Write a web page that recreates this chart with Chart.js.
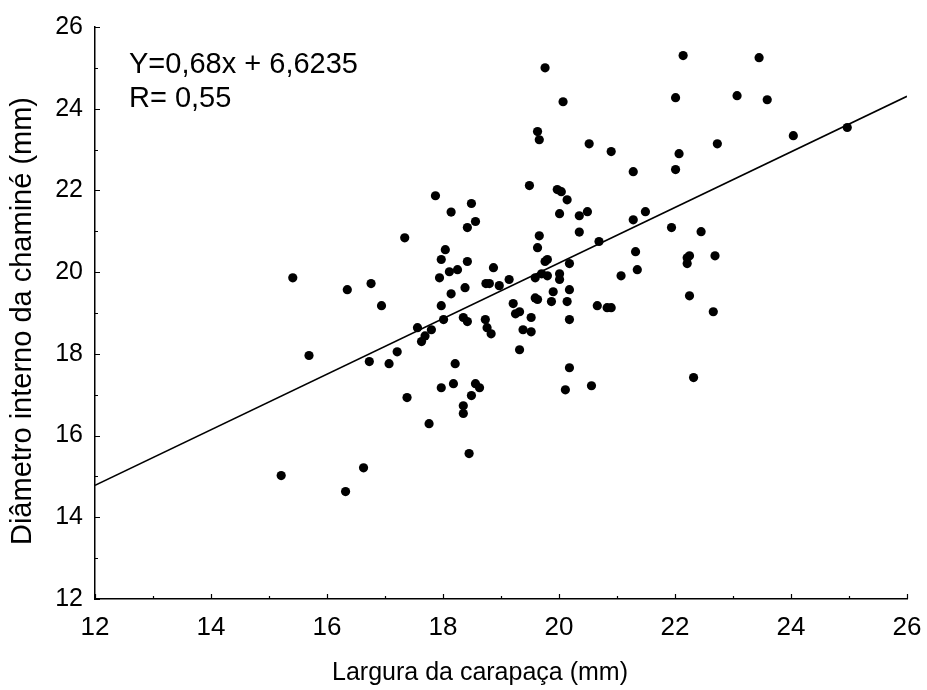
<!DOCTYPE html>
<html>
<head>
<meta charset="utf-8">
<script src="https://cdn.jsdelivr.net/npm/chart.js@4/dist/chart.umd.min.js"></script>
<style>
  html, body { margin: 0; padding: 0; background: #fff; }
  canvas { display: block; }
</style>
</head>
<body>
<canvas id="scatterChart" width="927" height="690"></canvas>
<script>
// largura da carapaça (mm)
const larguraCarapaca = [
  15.41, 16.35, 16.76, 16.94, 15.69, 15.21, 16.63, 16.32, 16.73, 17.07,
  17.21, 17.34, 17.38, 17.56, 17.63, 17.69, 17.80, 17.76, 17.87, 17.94,
  17.97, 17.97, 17.97, 18.01, 18.04, 18.11, 18.14, 18.14, 18.18, 18.21,
  18.25, 18.35, 18.42, 18.35, 18.35, 18.38, 18.42, 18.42, 18.45, 18.49,
  18.49, 18.56, 18.56, 18.63, 18.73, 18.76, 18.83, 18.74, 18.80, 18.87,
  18.97, 19.14, 19.21, 19.25, 19.32, 19.32, 19.38, 19.49, 19.52, 19.52,
  19.59, 19.59, 19.63, 19.63, 19.66, 19.63, 19.66, 19.70, 19.76, 19.76,
  19.80, 19.80, 19.87, 19.90, 19.97, 20.04, 20.01, 20.01, 20.01, 20.07,
  20.11, 20.14, 20.14, 20.18, 20.18, 20.18, 20.18, 20.35, 20.49, 20.35,
  20.52, 20.56, 20.66, 20.69, 20.83, 20.90, 20.90, 21.07, 21.28, 21.28,
  21.32, 21.35, 21.49, 21.94, 22.01, 22.01, 22.07, 22.14, 22.21, 22.25,
  22.21, 22.25, 22.32, 22.45, 22.66, 22.69, 22.73, 23.07, 23.45, 23.59,
  24.04, 24.97
];

// diâmetro interno da chaminé (mm)
const diametroChamine = [
  19.86, 19.57, 19.72, 19.18, 17.96, 15.02, 15.21, 14.63, 17.81, 17.76,
  18.05, 20.84, 16.93, 18.64, 18.30, 18.44, 18.59, 16.29, 21.87, 19.86,
  20.31, 19.18, 17.17, 18.84, 20.55, 20.01, 21.47, 19.47, 17.27, 17.76,
  20.06, 18.89, 18.79, 16.73, 16.54, 19.62, 21.09, 20.26, 15.56, 21.68,
  16.98, 21.24, 17.27, 17.17, 18.84, 18.64, 18.49, 19.72, 19.72, 20.11,
  19.67, 19.82, 19.23, 18.98, 19.03, 18.10, 18.59, 22.12, 18.89, 18.54,
  19.86, 19.37, 19.33, 23.44, 23.24, 20.60, 20.89, 19.96, 25.00, 20.26,
  20.31, 19.91, 19.28, 19.52, 22.02, 21.97, 21.43, 19.96, 19.82, 24.17,
  17.12, 21.77, 19.28, 20.21, 19.57, 18.84, 17.66, 21.38, 21.48, 20.98,
  23.14, 17.22, 19.18, 20.75, 19.13, 19.13, 22.95, 19.91, 22.46, 21.28,
  20.50, 20.06, 21.48, 21.09, 24.27, 22.51, 22.90, 25.30, 20.35, 20.40,
  20.21, 19.42, 17.42, 20.99, 19.03, 20.40, 23.14, 24.32, 25.25, 24.22,
  23.34, 23.54
];

// reta ajustada: Y = 0,68x + 6,6235 ; R = 0,55
const slope = 0.68;
const intercept = 6.6235;
const xRange = [12, 26];
const yRange = [12, 26];
const equationLines = ['Y=0,68x + 6,6235', 'R= 0,55'];
const xTitle = 'Largura da carapaça (mm)';
const yTitle = 'Diâmetro interno da chaminé (mm)';

const fontFamily = "'Liberation Sans', Arial, Helvetica, sans-serif";

const points = larguraCarapaca.map((x, i) => ({ x: x, y: diametroChamine[i] }));
const fitLine = xRange.map((x) => ({ x: x, y: slope * x + intercept }));

// inward tick marks (major on even values, minor on odd), axis titles and the equation text
const axisDecor = {
  id: 'axisDecor',
  afterDraw(chart) {
    const ctx = chart.ctx;
    const xs = chart.scales.x;
    const ys = chart.scales.y;
    const area = chart.chartArea;
    ctx.save();
    ctx.strokeStyle = '#000';
    ctx.lineWidth = 1.2;
    ctx.beginPath();
    for (let v = xRange[0]; v <= xRange[1]; v++) {
      const px = Math.round(xs.getPixelForValue(v)) + 0.5;
      const len = v % 2 === 0 ? 5 : 3;
      ctx.moveTo(px, area.bottom);
      ctx.lineTo(px, area.bottom - len);
    }
    for (let v = yRange[0]; v <= yRange[1]; v++) {
      const py = Math.round(ys.getPixelForValue(v)) + 0.5;
      const len = v % 2 === 0 ? 5 : 3;
      ctx.moveTo(area.left, py);
      ctx.lineTo(area.left + len, py);
    }
    ctx.stroke();

    ctx.fillStyle = '#000';
    ctx.font = '29px ' + fontFamily;
    ctx.textAlign = 'left';
    ctx.textBaseline = 'alphabetic';
    ctx.fillText(equationLines[0], 129, 73);
    ctx.fillText(equationLines[1], 129, 107);

    // x title, a little left of the axis middle
    ctx.textAlign = 'center';
    ctx.font = '25px ' + fontFamily;
    ctx.fillText(xTitle, 480, 680);

    // y title, rotated
    ctx.translate(31, 321);
    ctx.rotate(-Math.PI / 2);
    ctx.font = '29px ' + fontFamily;
    ctx.fillText(yTitle, 0, 0);
    ctx.restore();
  }
};

new Chart(document.getElementById('scatterChart'), {
  type: 'scatter',
  data: {
    datasets: [
      {
        label: 'Diâmetro interno da chaminé',
        data: points,
        backgroundColor: '#000',
        borderColor: '#000',
        borderWidth: 0,
        pointRadius: 4.6,
        pointHoverRadius: 4.6
      },
      {
        type: 'line',
        label: 'Ajuste linear',
        data: fitLine,
        borderColor: '#000',
        borderWidth: 1.6,
        pointRadius: 0,
        fill: false,
        tension: 0
      }
    ]
  },
  options: {
    responsive: false,
    animation: false,
    devicePixelRatio: 1,
    layout: { padding: { top: 27, right: 20, left: 0, bottom: 0 } },
    plugins: {
      legend: { display: false },
      tooltip: { enabled: false }
    },
    scales: {
      x: {
        type: 'linear',
        min: xRange[0],
        max: xRange[1],
        afterFit(scale) {
          scale.height = 91;
          scale.paddingLeft = 0;
          scale.paddingRight = 0;
        },
        grid: { display: false, drawTicks: false },
        border: { display: true, color: '#000', width: 1.5 },
        ticks: {
          stepSize: 2,
          padding: 13,
          color: '#000',
          font: { family: fontFamily, size: 26 }
        }
      },
      y: {
        type: 'linear',
        min: yRange[0],
        max: yRange[1],
        afterFit(scale) {
          scale.width = 95;
          scale.paddingTop = 0;
          scale.paddingBottom = 0;
        },
        grid: { display: false, drawTicks: false },
        border: { display: true, color: '#000', width: 1.5 },
        ticks: {
          stepSize: 2,
          padding: 12,
          color: '#000',
          font: { family: fontFamily, size: 25 }
        }
      }
    }
  },
  plugins: [axisDecor]
});
</script>
</body>
</html>
